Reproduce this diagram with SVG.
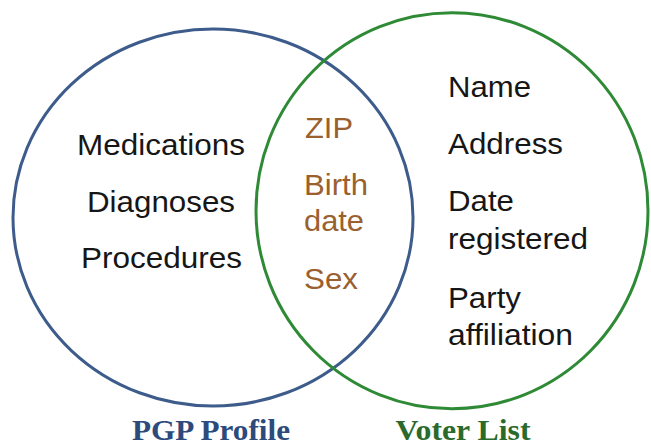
<svg xmlns="http://www.w3.org/2000/svg" width="651" height="446" viewBox="0 0 651 446">
<style>
.c{fill:none;stroke-width:3}
.t{font-family:"Liberation Sans",Arial,sans-serif;font-size:30px;fill:#161616}
.o{font-family:"Liberation Sans",Arial,sans-serif;font-size:30px;fill:#9a602e}
.lbl{font-family:"Liberation Serif","Times New Roman",serif;font-size:29px;font-weight:bold;text-anchor:middle}
.mid{text-anchor:middle}
</style>
<rect width="651" height="446" fill="#ffffff"/>
<g id="pgp-profile">
<ellipse class="c" cx="213" cy="217.5" rx="200" ry="188.5" stroke="#3d5c8b"/>
<text class="t mid" x="161" y="155" textLength="168" lengthAdjust="spacingAndGlyphs">Medications</text>
<text class="t mid" x="161" y="211.5" textLength="148" lengthAdjust="spacingAndGlyphs">Diagnoses</text>
<text class="t mid" x="161.5" y="268" textLength="161" lengthAdjust="spacingAndGlyphs">Procedures</text>
<text class="lbl" x="211" y="439.5" fill="#2c4a7b" textLength="158" lengthAdjust="spacingAndGlyphs">PGP Profile</text>
</g>
<g id="voter-list">
<ellipse class="c" cx="452" cy="210.7" rx="196" ry="198" stroke="#2e8a35"/>
<text class="t" x="448" y="97" textLength="83" lengthAdjust="spacingAndGlyphs">Name</text>
<text class="t" x="448" y="154" textLength="115" lengthAdjust="spacingAndGlyphs">Address</text>
<text class="t" x="448" y="211" textLength="66" lengthAdjust="spacingAndGlyphs">Date</text>
<text class="t" x="448" y="249" textLength="140" lengthAdjust="spacingAndGlyphs">registered</text>
<text class="t" x="448" y="308" textLength="73" lengthAdjust="spacingAndGlyphs">Party</text>
<text class="t" x="448" y="344.5" textLength="125" lengthAdjust="spacingAndGlyphs">affiliation</text>
<text class="lbl" x="463" y="439.5" fill="#2a6b2c" textLength="135" lengthAdjust="spacingAndGlyphs">Voter List</text>
</g>
<g id="shared">
<text class="o" x="305" y="137.5" textLength="48" lengthAdjust="spacingAndGlyphs">ZIP</text>
<text class="o" x="304" y="194.5" textLength="64" lengthAdjust="spacingAndGlyphs">Birth</text>
<text class="o" x="304" y="231" textLength="60" lengthAdjust="spacingAndGlyphs">date</text>
<text class="o" x="304" y="289" textLength="54" lengthAdjust="spacingAndGlyphs">Sex</text>
</g>
<g id="connectors"/>
</svg>
